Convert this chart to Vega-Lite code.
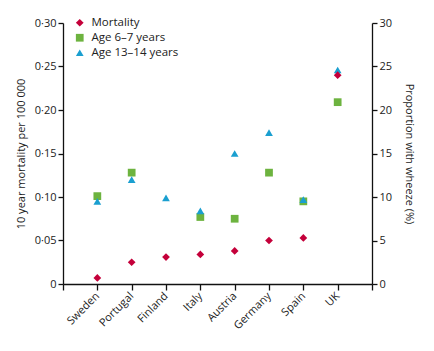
{
  "$schema": "https://vega.github.io/schema/vega-lite/v6.json",
  "autosize": {"type": "none"},
  "width": 309,
  "height": 261,
  "padding": {"left": 63, "top": 23, "right": 62, "bottom": 67},
  "background": "white",
  "config": {
    "view": {"stroke": null},
    "font": "Open Sans",
    "axis": {
      "domainColor": "#111",
      "domainWidth": 1.3,
      "tickColor": "#111",
      "tickWidth": 1.3,
      "tickSize": 5,
      "labelColor": "#222",
      "labelFontSize": 11,
      "titleColor": "#222",
      "titleFontSize": 11,
      "titleFontWeight": "normal",
      "grid": false
    }
  },
  "datasets": {
    "rows": [
      {"country": "Sweden", "series": "Mortality", "value": 0.007},
      {"country": "Portugal", "series": "Mortality", "value": 0.025},
      {"country": "Finland", "series": "Mortality", "value": 0.031},
      {"country": "Italy", "series": "Mortality", "value": 0.034},
      {"country": "Austria", "series": "Mortality", "value": 0.038},
      {"country": "Germany", "series": "Mortality", "value": 0.050},
      {"country": "Spain", "series": "Mortality", "value": 0.053},
      {"country": "UK", "series": "Mortality", "value": 0.240},
      {"country": "Sweden", "series": "Age 6–7 years", "value": 10.1},
      {"country": "Portugal", "series": "Age 6–7 years", "value": 12.8},
      {"country": "Italy", "series": "Age 6–7 years", "value": 7.7},
      {"country": "Austria", "series": "Age 6–7 years", "value": 7.5},
      {"country": "Germany", "series": "Age 6–7 years", "value": 12.8},
      {"country": "Spain", "series": "Age 6–7 years", "value": 9.5},
      {"country": "UK", "series": "Age 6–7 years", "value": 20.9},
      {"country": "Sweden", "series": "Age 13–14 years", "value": 9.5},
      {"country": "Portugal", "series": "Age 13–14 years", "value": 12.0},
      {"country": "Finland", "series": "Age 13–14 years", "value": 9.9},
      {"country": "Italy", "series": "Age 13–14 years", "value": 8.4},
      {"country": "Austria", "series": "Age 13–14 years", "value": 15.0},
      {"country": "Germany", "series": "Age 13–14 years", "value": 17.4},
      {"country": "Spain", "series": "Age 13–14 years", "value": 9.7},
      {"country": "UK", "series": "Age 13–14 years", "value": 24.6}
    ]
  },
  "data": {"name": "rows"},
  "encoding": {
    "x": {
      "field": "country",
      "type": "ordinal",
      "scale": {"type": "point", "padding": 0, "domain": [" ", "Sweden", "Portugal", "Finland", "Italy", "Austria", "Germany", "Spain", "UK", "  "]},
      "axis": {"title": null, "labelAngle": -45, "labelAlign": "right", "labelBaseline": "middle", "labelPadding": 4, "tickSize": 6}
    },
    "color": {
      "field": "series",
      "type": "nominal",
      "scale": {"domain": ["Mortality", "Age 6–7 years", "Age 13–14 years"], "range": ["#c4003a", "#6db33f", "#1a9fd0"]},
      "legend": {
        "title": null,
        "orient": "none",
        "legendX": 11,
        "legendY": -6,
        "padding": 0,
        "labelFontSize": 11.5,
        "labelColor": "#222",
        "labelFont": "Open Sans",
        "symbolSize": 60,
        "symbolStrokeWidth": 0,
        "rowPadding": 2,
        "labelOffset": 6
      }
    },
    "shape": {
      "field": "series",
      "type": "nominal",
      "scale": {"domain": ["Mortality", "Age 6–7 years", "Age 13–14 years"], "range": ["diamond", "square", "triangle-up"]},
      "legend": null
    }
  },
  "layer": [
    {
      "transform": [{"filter": "datum.series !== 'Mortality'"}],
      "mark": {"type": "point", "filled": true, "opacity": 1, "size": 60},
      "encoding": {
        "y": {
          "field": "value",
          "type": "quantitative",
          "scale": {"domain": [0, 30], "nice": false},
          "axis": {"orient": "right", "values": [0, 5, 10, 15, 20, 25, 30], "title": "Proportion with wheeze (%)", "titleAngle": 90, "titlePadding": 12}
        }
      }
    },
    {
      "transform": [{"filter": "datum.series === 'Mortality'"}],
      "mark": {"type": "point", "filled": true, "opacity": 1, "size": 60},
      "encoding": {
        "y": {
          "field": "value",
          "type": "quantitative",
          "scale": {"domain": [0, 0.3], "nice": false},
          "axis": {"orient": "left", "values": [0, 0.05, 0.1, 0.15, 0.2, 0.25, 0.3], "labelExpr": "datum.value == 0 ? '0' : replace(format(datum.value, '.2f'), '.', '·')", "title": "10 year mortality per 100 000", "titlePadding": 8}
        }
      }
    }
  ],
  "resolve": {"scale": {"y": "independent"}}
}
